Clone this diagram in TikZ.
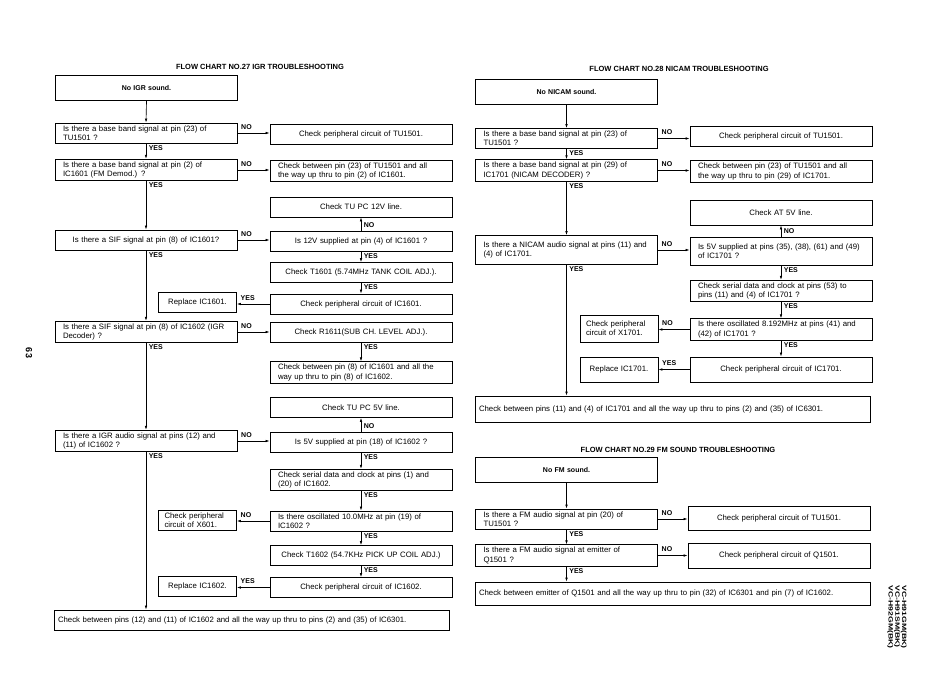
\documentclass[tikz,border=0pt]{standalone}
\usepackage{fontspec}
\setmainfont{Liberation Sans}
\newfontfamily\modelfont[FakeStretch=1.4]{Liberation Sans}
\usetikzlibrary{arrows.meta}

\begin{document}
\begin{tikzpicture}[x=1pt,y=-1pt,font=\fontsize{7.8}{9.3}\selectfont,
  box/.style={draw,line width=0.8pt,inner xsep=8pt,inner ysep=2.5pt,text width=166pt,minimum height=20pt},
  lbox/.style={box,align=left},
  cbox/.style={box,align=center},
  sbox/.style={box,text width=66pt,inner xsep=6pt,align=left},
  wbox/.style={box,text width=387pt,inner xsep=4pt,align=left},
  startbox/.style={box,line width=1.1pt,align=center,minimum height=25pt,font=\fontsize{7}{8}\bfseries\selectfont},
  ttl/.style={font=\fontsize{7.5}{9}\bfseries\selectfont},
  lab/.style={font=\fontsize{7}{8}\bfseries\selectfont,inner sep=0.5pt},
  nolab/.style={lab,anchor=south west,xshift=3pt,yshift=3pt},
  yeslab/.style={lab,anchor=north west,xshift=2pt,yshift=-1pt},
  uplab/.style={lab,anchor=south west,xshift=2pt,yshift=2pt},
  arr/.style={line width=0.65pt,-{Latex[length=4pt,width=2.6pt]}}]
\useasboundingbox (0,0) rectangle (950,679);

% page number and models
\node[rotate=-90,font=\fontsize{9}{10}\bfseries\selectfont] (page) at (29,353) {63};
\node[rotate=-90,align=left,font=\modelfont\fontsize{6.2}{5.6}\bfseries\selectfont] (models) at (897,617)
  {VC-H91GM(BK)\\VC-H91SM(BK)\\VC-H92GM(BK)};

% flow chart 27
\node[ttl] (t27) at (260,67) {FLOW CHART NO.27 IGR TROUBLESHOOTING};
\node[startbox] (s27) at (146.5,88) {No IGR sound.};
\node[lbox] (q1) at (146,133) {Is there a base band signal at pin (23) of\\TU1501 ?};
\node[cbox] (r1) at (361,134.5) {Check peripheral circuit of TU1501.};
\node[lbox] (q2) at (146,170) {Is there a base band signal at pin (2) of\\IC1601 (FM Demod.) ?};
\node[lbox] (r2) at (361,171) {Check between pin (23) of TU1501 and all\\the way up thru to pin (2) of IC1601.};
\node[cbox] (c12) at (361,207) {Check TU PC 12V line.};
\node[cbox] (q3) at (146,240) {Is there a SIF signal at pin (8) of IC1601?};
\node[cbox] (r3) at (361,241) {Is 12V supplied at pin (4) of IC1601 ?};
\node[cbox] (t1601) at (361,272.5) {Check T1601 (5.74MHz TANK COIL ADJ.).};
\node[cbox] (p1601) at (361,304) {Check peripheral circuit of IC1601.};
\node[sbox,align=center] (rep1601) at (197.5,302.5) {Replace IC1601.};
\node[lbox] (q4) at (146,332) {Is there a SIF signal at pin (8) of IC1602 (IGR\\Decoder) ?};
\node[cbox] (r1611) at (361,332) {Check R1611(SUB CH. LEVEL ADJ.).};
\node[lbox] (b8) at (361,372.5) {Check between pin (8) of IC1601 and all the\\way up thru to pin (8) of IC1602.};
\node[cbox] (c5) at (361,407.5) {Check TU PC 5V line.};
\node[lbox] (q5) at (146,441) {Is there a IGR audio signal at pins (12) and\\(11) of IC1602 ?};
\node[cbox] (r5) at (361,442) {Is 5V supplied at pin (18) of IC1602 ?};
\node[lbox] (ser) at (361,480) {Check serial data and clock at pins (1) and\\(20) of IC1602.};
\node[lbox] (osc) at (361,521) {Is there oscillated 10.0MHz at pin (19) of\\IC1602 ?};
\node[sbox] (x601) at (197.5,520.5) {Check peripheral\\circuit of X601.};
\node[cbox] (t1602) at (361,555.5) {Check T1602 (54.7KHz PICK UP COIL ADJ.)};
\node[cbox] (p1602) at (361,587.5) {Check peripheral circuit of IC1602.};
\node[sbox,align=center] (rep1602) at (197.5,586.5) {Replace IC1602.};
\node[wbox] (f27) at (251.5,620) {Check between pins (12) and (11) of IC1602 and all the way up thru to pins (2) and (35) of IC6301.};

\draw[arr] (s27.south) -- (q1.north);
\draw[arr] (q1.east) node[nolab]{NO} -- (q1.east -| r1.west);
\draw[arr] (q1.south) node[yeslab]{YES} -- (q2.north);
\draw[arr] (q2.east) node[nolab]{NO} -- (q2.east -| r2.west);
\draw[arr] (q2.south) node[yeslab]{YES} -- (q3.north);
\draw[arr] (q3.east) node[nolab]{NO} -- (q3.east -| r3.west);
\draw[arr] (r3.north) node[uplab]{NO} -- (c12.south);
\draw[arr] (r3.south) node[yeslab]{YES} -- (t1601.north);
\draw[arr] (t1601.south) node[yeslab]{YES} -- (p1601.north);
\draw[arr] (p1601.west) -- (p1601.west -| rep1601.east) node[nolab]{YES};
\draw[arr] (q3.south) node[yeslab]{YES} -- (q4.north);
\draw[arr] (q4.east) node[nolab]{NO} -- (q4.east -| r1611.west);
\draw[arr] (r1611.south) node[yeslab]{YES} -- (b8.north);
\draw[arr] (q4.south) node[yeslab]{YES} -- (q5.north);
\draw[arr] (q5.east) node[nolab]{NO} -- (q5.east -| r5.west);
\draw[arr] (r5.north) node[uplab]{NO} -- (c5.south);
\draw[arr] (r5.south) node[yeslab]{YES} -- (ser.north);
\draw[arr] (ser.south) node[yeslab]{YES} -- (osc.north);
\draw[arr] (osc.west) -- (osc.west -| x601.east) node[nolab]{NO};
\draw[arr] (osc.south) node[yeslab]{YES} -- (t1602.north);
\draw[arr] (t1602.south) node[yeslab]{YES} -- (p1602.north);
\draw[arr] (p1602.west) -- (p1602.west -| rep1602.east) node[nolab]{YES};
\draw[arr] (q5.south) node[yeslab]{YES} -- (q5.south |- f27.north);

% flow chart 28
\node[ttl] (t28) at (679,69) {FLOW CHART NO.28 NICAM TROUBLESHOOTING};
\node[startbox] (s28) at (566.5,92) {No NICAM sound.};
\node[lbox] (nq1) at (566.5,138.5) {Is there a base band signal at pin (23) of\\TU1501 ?};
\node[cbox] (nr1) at (781,136) {Check peripheral circuit of TU1501.};
\node[lbox] (nq2) at (566.5,170.5) {Is there a base band signal at pin (29) of\\IC1701 (NICAM DECODER) ?};
\node[lbox] (nr2) at (781,171.5) {Check between pin (23) of TU1501 and all\\the way up thru to pin (29) of IC1701.};
\node[cbox,minimum height=25pt] (nat5) at (781,212.5) {Check AT 5V line.};
\node[lbox,minimum height=29pt] (nq3) at (566.5,250) {Is there a NICAM audio signal at pins (11) and\\(4) of IC1701.};
\node[lbox,minimum height=28pt] (nr3) at (781,251) {Is 5V supplied at pins (35), (38), (61) and (49)\\of IC1701 ?};
\node[lbox] (nser) at (781,291) {Check serial data and clock at pins (53) to\\pins (11) and (4) of IC1701 ?};
\node[lbox] (nosc) at (781,329.5) {Is there oscillated 8.192MHz at pins (41) and\\(42) of IC1701 ?};
\node[sbox,minimum height=27pt] (nx1701) at (619,328.5) {Check peripheral\\circuit of X1701.};
\node[cbox,minimum height=25pt] (np1701) at (781,369.5) {Check peripheral circuit of IC1701.};
\node[sbox,align=center,minimum height=25pt] (nrep1701) at (619,369.5) {Replace IC1701.};
\node[wbox,minimum height=26pt] (nf) at (672.5,409) {Check between pins (11) and (4) of IC1701 and all the way up thru to pins (2) and (35) of IC6301.};

\draw[arr] (s28.south) -- (nq1.north);
\draw[arr] (nq1.east) node[nolab]{NO} -- (nq1.east -| nr1.west);
\draw[arr] (nq1.south) node[yeslab]{YES} -- (nq2.north);
\draw[arr] (nq2.east) node[nolab]{NO} -- (nq2.east -| nr2.west);
\draw[arr] (nq2.south) node[yeslab]{YES} -- (nq3.north);
\draw[arr] (nq3.east) node[nolab]{NO} -- (nq3.east -| nr3.west);
\draw[arr] (nr3.north) node[uplab]{NO} -- (nat5.south);
\draw[arr] (nr3.south) node[yeslab]{YES} -- (nser.north);
\draw[arr] (nser.south) node[yeslab]{YES} -- (nosc.north);
\draw[arr] (nosc.west) -- (nosc.west -| nx1701.east) node[nolab]{NO};
\draw[arr] (nosc.south) node[yeslab]{YES} -- (np1701.north);
\draw[arr] (np1701.west) -- (np1701.west -| nrep1701.east) node[nolab]{YES};
\draw[arr] (nq3.south) node[yeslab]{YES} -- (nq3.south |- nf.north);

% flow chart 29
\node[ttl] (t29) at (678,450) {FLOW CHART NO.29 FM SOUND TROUBLESHOOTING};
\node[startbox] (s29) at (566.5,470) {No FM sound.};
\node[lbox] (fq1) at (566.5,519) {Is there a FM audio signal at pin (20) of\\TU1501 ?};
\node[cbox,minimum height=24pt] (fr1) at (779,518) {Check peripheral circuit of TU1501.};
\node[lbox] (fq2) at (566.5,555.5) {Is there a FM audio signal at emitter of\\Q1501 ?};
\node[cbox,minimum height=25pt] (fr2) at (779,555.5) {Check peripheral circuit of Q1501.};
\node[wbox,minimum height=23pt] (ff) at (672.5,593.5) {Check between emitter of Q1501 and all the way up thru to pin (32) of IC6301 and pin (7) of IC1602.};

\draw[arr] (s29.south) -- (fq1.north);
\draw[arr] (fq1.east) node[nolab]{NO} -- (fq1.east -| fr1.west);
\draw[arr] (fq1.south) node[yeslab]{YES} -- (fq2.north);
\draw[arr] (fq2.east) node[nolab]{NO} -- (fq2.east -| fr2.west);
\draw[arr] (fq2.south) node[yeslab]{YES} -- (fq2.south |- ff.north);
\end{tikzpicture}
\end{document}
